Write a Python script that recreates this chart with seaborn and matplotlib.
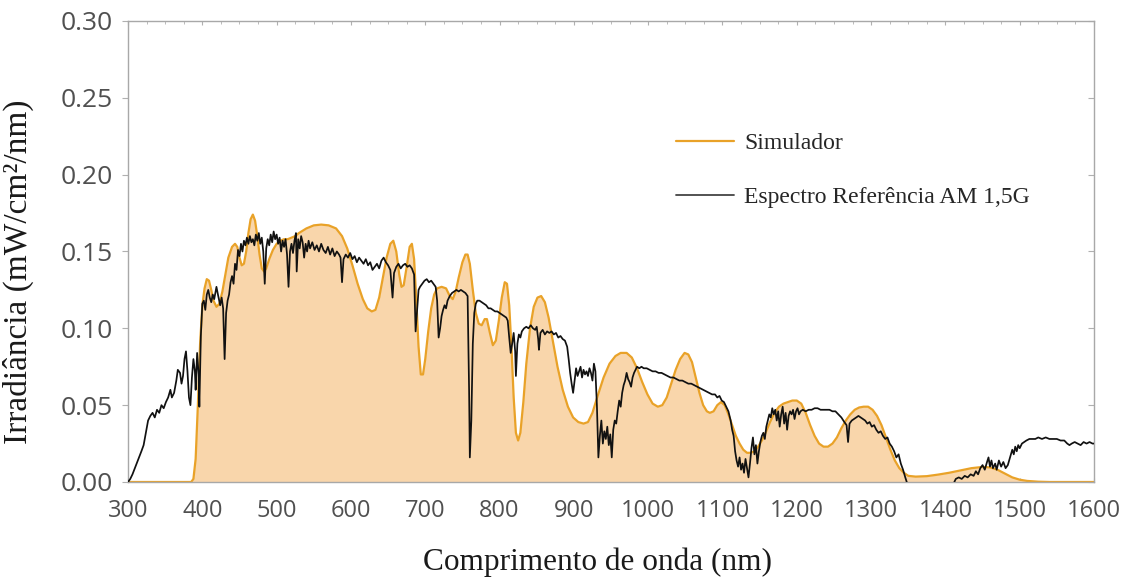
import numpy as np
import pandas as pd
import matplotlib
matplotlib.use("Agg")
import matplotlib.pyplot as plt
from matplotlib.lines import Line2D
from matplotlib.ticker import MultipleLocator
import seaborn as sns

# Simulator output spectrum (nm, mW/cm2/nm)
sim_wl = [300, 385, 388, 391, 394, 397, 400, 403, 406, 409, 412, 415, 419, 423, 427,
          431, 435, 440, 444, 447, 450, 453, 456, 459, 462, 465, 468, 471, 474, 477,
          480, 483, 486, 490, 495, 500, 505, 510, 515, 520, 525, 530, 540, 550, 560,
          570, 580, 588, 595, 602, 609, 616, 622, 628, 633, 638, 643, 648, 653, 657,
          661, 665, 668, 671, 675, 679, 682, 685, 688, 691, 694, 697, 700, 704, 708,
          712, 716, 722, 728, 733, 737, 741, 745, 750, 754, 757, 760, 764, 768, 772,
          776, 780, 783, 787, 791, 795, 799, 803, 807, 810, 813, 816, 819, 822, 825,
          828, 832, 836, 841, 846, 851, 856, 861, 866, 872, 878, 885, 892, 899, 906,
          913, 919, 925, 932, 940, 948, 956, 963, 971, 978, 985, 992, 999, 1006, 1013,
          1019, 1025, 1031, 1037, 1043, 1049, 1054, 1059, 1064, 1069, 1074, 1079, 1083,
          1088, 1093, 1098, 1103, 1108, 1113, 1118, 1123, 1128, 1133, 1138, 1143, 1148,
          1153, 1158, 1164, 1170, 1176, 1182, 1188, 1194, 1200, 1206, 1212, 1218, 1224,
          1230, 1236, 1242, 1248, 1254, 1260, 1266, 1272, 1278, 1284, 1290, 1296, 1302,
          1308, 1314, 1320, 1326, 1332, 1338, 1344, 1350, 1360, 1375, 1390, 1405, 1420,
          1435, 1450, 1460, 1470, 1480, 1490, 1500, 1510, 1525, 1540, 1600]
sim_val = [0.000, 0.000, 0.002, 0.015, 0.050, 0.090, 0.115, 0.126, 0.132, 0.131, 0.125,
           0.118, 0.114, 0.116, 0.124, 0.135, 0.146, 0.153, 0.155, 0.153, 0.146, 0.141,
           0.142, 0.150, 0.162, 0.171, 0.174, 0.170, 0.160, 0.148, 0.139, 0.137, 0.139,
           0.145, 0.151, 0.155, 0.157, 0.158, 0.158, 0.159, 0.160, 0.162, 0.165, 0.167,
           0.1675, 0.167, 0.165, 0.160, 0.152, 0.141, 0.129, 0.119, 0.113, 0.111, 0.112,
           0.120, 0.133, 0.146, 0.155, 0.157, 0.150, 0.135, 0.127, 0.128, 0.140, 0.153,
           0.155, 0.145, 0.118, 0.088, 0.070, 0.070, 0.080, 0.098, 0.113, 0.122, 0.126,
           0.127, 0.126, 0.121, 0.119, 0.124, 0.133, 0.143, 0.148, 0.148, 0.142, 0.125,
           0.110, 0.103, 0.102, 0.106, 0.106, 0.097, 0.089, 0.092, 0.105, 0.120, 0.130,
           0.129, 0.115, 0.088, 0.055, 0.032, 0.027, 0.032, 0.052, 0.077, 0.100, 0.114,
           0.120, 0.121, 0.117, 0.107, 0.091, 0.075, 0.060, 0.049, 0.042, 0.039, 0.038,
           0.039, 0.045, 0.056, 0.068, 0.077, 0.082, 0.084, 0.084, 0.081, 0.074, 0.065,
           0.057, 0.051, 0.049, 0.050, 0.055, 0.064, 0.073, 0.080, 0.084, 0.083, 0.078,
           0.068, 0.058, 0.050, 0.046, 0.045, 0.046, 0.050, 0.052, 0.050, 0.044, 0.037,
           0.030, 0.025, 0.021, 0.019, 0.019, 0.020, 0.023, 0.027, 0.032, 0.039, 0.045,
           0.049, 0.051, 0.052, 0.053, 0.053, 0.051, 0.045, 0.037, 0.030, 0.025, 0.023,
           0.023, 0.025, 0.029, 0.035, 0.040, 0.044, 0.047, 0.0485, 0.049, 0.049, 0.047,
           0.043, 0.037, 0.029, 0.021, 0.014, 0.009, 0.006, 0.004, 0.0035, 0.0038, 0.0048,
           0.006, 0.0075, 0.009, 0.0098, 0.0095, 0.008, 0.0055, 0.003, 0.0015, 0.0007,
           0.0002, 0.000, 0.000]

# AM 1.5G reference spectrum, first band (300-1348 nm)
ref_wl_a = [300, 303, 306, 310, 314, 318, 321, 324, 327, 330, 333, 336, 339, 342, 345,
            348, 351, 354, 357, 359, 362, 365, 367, 370, 372, 374, 376, 378, 380, 382,
            384, 386, 388, 390, 391, 393, 395, 396, 398, 400, 402, 404, 406, 408, 410,
            412, 414, 416, 419, 421, 424, 426, 428, 430, 432, 434, 436, 438, 440, 442,
            444, 446, 448, 450, 452, 454, 456, 458, 460, 462, 464, 466, 468, 470, 472,
            474, 476, 478, 480, 482, 484, 486, 488, 490, 492, 494, 496, 498, 500, 502,
            504, 506, 508, 510, 512, 514, 516, 518, 520, 522, 524, 526, 527, 529, 531,
            533, 535, 537, 539, 541, 543, 545, 548, 551, 554, 557, 560, 563, 566, 569,
            572, 575, 578, 581, 584, 586, 588, 590, 593, 596, 599, 602, 605, 608, 611,
            614, 617, 620, 623, 626, 629, 632, 635, 638, 641, 644, 647, 650, 653, 656,
            658, 661, 664, 667, 670, 673, 676, 679, 682, 685, 687, 689, 691, 693, 696,
            699, 702, 705, 708, 711, 714, 716, 718, 720, 722, 724, 726, 728, 730, 733,
            736, 739, 742, 745, 748, 751, 754, 757, 759, 760, 762, 764, 766, 768, 770,
            773, 776, 779, 782, 785, 788, 791, 794, 797, 800, 803, 806, 809, 811, 813,
            815, 817, 819, 821, 822, 824, 826, 828, 830, 833, 836, 839, 842, 845, 848,
            850, 852, 853, 855, 858, 861, 864, 867, 870, 873, 876, 879, 882, 885, 888,
            891, 893, 895, 897, 899, 901, 903, 905, 907, 909, 911, 913, 915, 917, 919,
            921, 923, 925, 927, 929, 931, 933, 935, 937, 939, 941, 943, 945, 947, 949,
            951, 953, 955, 957, 959, 961, 963, 965, 967, 969, 971, 973, 975, 977, 979,
            981, 983, 985, 988, 991, 994, 998, 1002, 1006, 1010, 1014, 1018, 1022, 1026,
            1030, 1034, 1038, 1042, 1046, 1050, 1054, 1058, 1062, 1066, 1070, 1074, 1078,
            1082, 1086, 1090, 1093, 1096, 1099, 1102, 1105, 1108, 1111, 1113, 1115, 1117,
            1119, 1121, 1123, 1125, 1127, 1129, 1131, 1133, 1135, 1137, 1139, 1141, 1143,
            1145, 1147, 1149, 1151, 1153, 1155, 1157, 1159, 1161, 1163, 1165, 1167, 1169,
            1171, 1173, 1175, 1177, 1179, 1181, 1183, 1185, 1187, 1189, 1191, 1193, 1195,
            1197, 1199, 1201, 1203, 1205, 1208, 1212, 1216, 1220, 1224, 1228, 1232, 1236,
            1240, 1244, 1248, 1252, 1256, 1260, 1264, 1267, 1269, 1271, 1274, 1277, 1280,
            1283, 1286, 1289, 1292, 1295, 1298, 1301, 1304, 1307, 1310, 1313, 1316, 1319,
            1322, 1325, 1328, 1331, 1334, 1337, 1340, 1343, 1346, 1348]
ref_val_a = [0.000, 0.002, 0.005, 0.010, 0.015, 0.020, 0.024, 0.032, 0.040, 0.043, 0.045,
             0.042, 0.047, 0.045, 0.050, 0.048, 0.052, 0.055, 0.060, 0.055, 0.058, 0.066,
             0.073, 0.071, 0.064, 0.069, 0.080, 0.085, 0.072, 0.055, 0.050, 0.068, 0.080,
             0.072, 0.060, 0.084, 0.070, 0.049, 0.095, 0.116, 0.118, 0.112, 0.122, 0.125,
             0.120, 0.117, 0.122, 0.119, 0.127, 0.122, 0.115, 0.120, 0.113, 0.080, 0.110,
             0.118, 0.122, 0.130, 0.134, 0.129, 0.142, 0.138, 0.151, 0.147, 0.155, 0.150,
             0.157, 0.154, 0.159, 0.155, 0.160, 0.156, 0.158, 0.154, 0.161, 0.157, 0.162,
             0.155, 0.159, 0.150, 0.129, 0.152, 0.158, 0.154, 0.161, 0.156, 0.163, 0.158,
             0.161, 0.155, 0.159, 0.150, 0.157, 0.153, 0.158, 0.148, 0.127, 0.150, 0.155,
             0.149, 0.157, 0.162, 0.137, 0.158, 0.152, 0.160, 0.156, 0.146, 0.155, 0.150,
             0.157, 0.152, 0.156, 0.151, 0.154, 0.150, 0.155, 0.151, 0.149, 0.153, 0.148,
             0.152, 0.147, 0.150, 0.148, 0.146, 0.130, 0.145, 0.148, 0.146, 0.149, 0.145,
             0.147, 0.143, 0.146, 0.144, 0.142, 0.145, 0.141, 0.143, 0.138, 0.140, 0.142,
             0.139, 0.144, 0.146, 0.143, 0.141, 0.138, 0.120, 0.136, 0.140, 0.142, 0.139,
             0.141, 0.142, 0.140, 0.141, 0.139, 0.135, 0.098, 0.112, 0.125, 0.127, 0.129,
             0.131, 0.132, 0.130, 0.131, 0.129, 0.127, 0.118, 0.094, 0.100, 0.108, 0.112,
             0.115, 0.113, 0.118, 0.121, 0.123, 0.124, 0.125, 0.124, 0.125, 0.124, 0.123,
             0.121, 0.060, 0.016, 0.040, 0.090, 0.110, 0.116, 0.118, 0.118, 0.117, 0.116,
             0.115, 0.113, 0.113, 0.112, 0.111, 0.111, 0.110, 0.109, 0.108, 0.107, 0.105,
             0.094, 0.084, 0.090, 0.097, 0.085, 0.069, 0.090, 0.096, 0.094, 0.098, 0.100,
             0.101, 0.100, 0.102, 0.100, 0.099, 0.101, 0.093, 0.086, 0.097, 0.099, 0.096,
             0.098, 0.097, 0.098, 0.096, 0.097, 0.094, 0.095, 0.093, 0.092, 0.088, 0.080,
             0.071, 0.064, 0.058, 0.066, 0.074, 0.069, 0.072, 0.075, 0.068, 0.073, 0.070,
             0.072, 0.069, 0.074, 0.071, 0.066, 0.077, 0.072, 0.050, 0.016, 0.030, 0.040,
             0.025, 0.033, 0.028, 0.036, 0.024, 0.031, 0.016, 0.034, 0.040, 0.038, 0.046,
             0.053, 0.049, 0.058, 0.063, 0.066, 0.071, 0.067, 0.065, 0.062, 0.068, 0.071,
             0.073, 0.075, 0.074, 0.075, 0.074, 0.074, 0.073, 0.072, 0.072, 0.071, 0.071,
             0.070, 0.069, 0.068, 0.068, 0.067, 0.066, 0.066, 0.065, 0.064, 0.064, 0.063,
             0.062, 0.061, 0.060, 0.059, 0.058, 0.057, 0.057, 0.055, 0.056, 0.053, 0.052,
             0.049, 0.046, 0.040, 0.034, 0.030, 0.020, 0.014, 0.010, 0.016, 0.008, 0.012,
             0.006, 0.015, 0.009, 0.003, 0.012, 0.022, 0.029, 0.018, 0.024, 0.012, 0.020,
             0.026, 0.030, 0.032, 0.028, 0.036, 0.040, 0.044, 0.042, 0.048, 0.044, 0.047,
             0.040, 0.046, 0.036, 0.044, 0.049, 0.038, 0.045, 0.034, 0.043, 0.046, 0.044,
             0.047, 0.041, 0.046, 0.048, 0.044, 0.046, 0.047, 0.046, 0.047, 0.047, 0.048,
             0.048, 0.047, 0.047, 0.047, 0.047, 0.046, 0.046, 0.044, 0.042, 0.039, 0.037,
             0.026, 0.038, 0.040, 0.041, 0.042, 0.043, 0.042, 0.041, 0.040, 0.038, 0.039,
             0.036, 0.037, 0.034, 0.032, 0.033, 0.030, 0.028, 0.029, 0.025, 0.023, 0.020,
             0.016, 0.018, 0.012, 0.008, 0.003, 0.000]

# AM 1.5G reference spectrum, second band (1412-1600 nm)
ref_wl_b = [1412, 1414, 1418, 1422, 1426, 1430, 1434, 1438, 1441, 1444, 1447, 1450, 1453,
            1456, 1458, 1460, 1462, 1464, 1467, 1469, 1472, 1475, 1478, 1481, 1484, 1487,
            1490, 1492, 1494, 1496, 1498, 1500, 1503, 1506, 1509, 1513, 1517, 1521, 1525,
            1530, 1535, 1540, 1545, 1550, 1555, 1560, 1564, 1567, 1570, 1574, 1578, 1582,
            1586, 1590, 1594, 1598, 1600]
ref_val_b = [0.000, 0.002, 0.003, 0.002, 0.004, 0.003, 0.005, 0.004, 0.007, 0.005, 0.009,
             0.011, 0.008, 0.013, 0.016, 0.010, 0.014, 0.009, 0.012, 0.008, 0.014, 0.010,
             0.013, 0.009, 0.011, 0.016, 0.021, 0.018, 0.023, 0.020, 0.024, 0.022, 0.025,
             0.026, 0.027, 0.028, 0.028, 0.028, 0.029, 0.028, 0.029, 0.028, 0.028, 0.028,
             0.027, 0.027, 0.025, 0.024, 0.025, 0.026, 0.025, 0.024, 0.026, 0.025, 0.026,
             0.025, 0.025]

series_labels = ["Simulador", "Espectro Referência AM 1,5G"]
x_ticks = list(range(300, 1601, 100))
y_ticks = [0.00, 0.05, 0.10, 0.15, 0.20, 0.25, 0.30]

sim_df = pd.DataFrame({"wl": sim_wl, "val": sim_val})
ref_df = pd.concat([
    pd.DataFrame({"wl": ref_wl_a, "val": ref_val_a, "band": "a"}),
    pd.DataFrame({"wl": ref_wl_b, "val": ref_val_b, "band": "b"}),
], ignore_index=True)

sns.set_style("white")
plt.rcParams["font.family"] = ["Open Sans", "DejaVu Sans"]

orange = "#E9A228"
peach = "#F9D6AB"

fig = plt.figure(figsize=(11.39, 5.81), dpi=100)
ax = fig.add_axes([0.1124, 0.1704, 0.8481, 0.7935])

ax.fill_between(sim_df["wl"], 0, sim_df["val"], color=peach, linewidth=0, zorder=1)
sns.lineplot(data=sim_df, x="wl", y="val", ax=ax, color=orange, linewidth=1.6,
             estimator=None, sort=False, zorder=2)
sns.lineplot(data=ref_df, x="wl", y="val", units="band", ax=ax, color="#111111",
             linewidth=1.25, estimator=None, sort=False, zorder=3)

ax.set_xlim(300, 1600)
ax.set_ylim(0, 0.30)
ax.set_xticks(x_ticks)
ax.set_yticks(y_ticks)
ax.set_yticklabels([f"{v:.2f}" for v in y_ticks])
ax.xaxis.set_minor_locator(MultipleLocator(25))

for side in ["left", "right", "top", "bottom"]:
    ax.spines[side].set_color("#A8A8A8")
    ax.spines[side].set_linewidth(1.0)

ax.tick_params(axis="x", which="major", bottom=True, top=True, direction="in",
               length=3, color="#B0B0B0", labelsize=17, labelcolor="#505050", pad=12)
ax.tick_params(axis="x", which="minor", bottom=False, top=True, direction="in",
               length=2, color="#B0B0B0")
ax.tick_params(axis="y", which="major", left=True, right=False, direction="out",
               length=4, color="#B0B0B0", labelsize=19, labelcolor="#505050", pad=7)
ax.yaxis.set_ticks_position("left")
ax2 = ax.secondary_yaxis("right")
ax2.set_yticks(y_ticks)
ax2.tick_params(direction="in", length=4, color="#B0B0B0", labelright=False)
ax2.spines["right"].set_visible(False)

serif = ["Liberation Serif", "DejaVu Serif"]
ax.set_xlabel("Comprimento de onda (nm)", fontsize=22.5, family=serif, color="#1a1a1a")
ax.xaxis.set_label_coords(0.4865, -0.143)
ax.set_ylabel("Irradiância (mW/cm²/nm)", fontsize=24, family=serif, color="#1a1a1a")
ax.yaxis.set_label_coords(-0.097, 0.455)

handles = [Line2D([], [], color=orange, linewidth=1.6),
           Line2D([], [], color="#444444", linewidth=1.3)]
ax.legend(handles, series_labels, loc="upper left", bbox_to_anchor=(0.567, 0.758),
          frameon=False, prop={"family": serif, "size": 17}, handlelength=2.45,
          handletextpad=0.45, labelspacing=1.37, borderpad=0, borderaxespad=0)

fig.savefig("out.png", dpi=100)
